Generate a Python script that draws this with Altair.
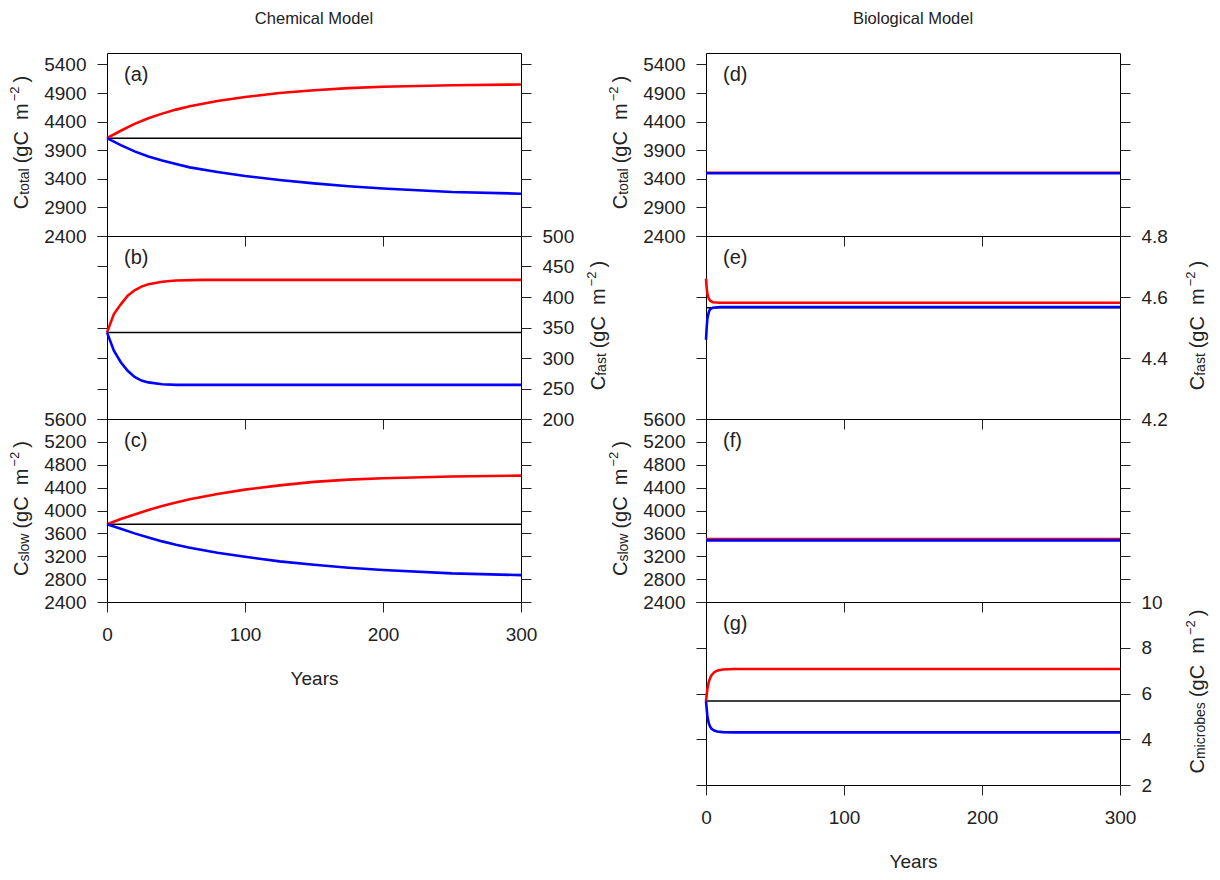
import altair as alt
import pandas as pd

FONT = "Liberation Sans"
W = 414
H = 183
XTICKS = [0, 100, 200, 300]

# ---------------- Chemical model ----------------
# (a) C_total
A_YEARS = [0, 10, 20, 30, 40, 50, 60, 80, 100, 125, 150, 175, 200, 250, 300]
A_BASE = [4110, 4110]
A_RED = [4110, 4240, 4360, 4460, 4540, 4610, 4670, 4760, 4830, 4900, 4950, 4985, 5010, 5035, 5050]
A_BLUE = [4110, 3990, 3880, 3790, 3720, 3660, 3600, 3520, 3450, 3380, 3320, 3270, 3230, 3170, 3140]
# (b) C_fast
B_YEARS = [0, 5, 10, 15, 20, 25, 30, 40, 50, 70, 100, 300]
B_BASE = [342, 342]
B_RED = [342, 372, 388, 402, 411, 417, 421, 425, 427, 428, 428, 428]
B_BLUE = [342, 312, 293, 279, 269, 263, 260, 257, 256, 256, 256, 256]
# (c) C_slow
C_YEARS = [0, 10, 20, 30, 40, 50, 60, 80, 100, 125, 150, 175, 200, 250, 300]
C_BASE = [3760, 3760]
C_RED = [3760, 3850, 3930, 4010, 4080, 4140, 4195, 4290, 4365, 4440, 4500, 4540, 4565, 4595, 4610]
C_BLUE = [3760, 3680, 3600, 3530, 3460, 3400, 3350, 3260, 3190, 3110, 3050, 3000, 2960, 2900, 2870]

# ---------------- Biological model ----------------
# (d) C_total
D_YEARS = [0, 300]
D_BASE = [3500, 3500]
D_RED = [3505, 3505]
D_BLUE = [3498, 3498]
# (e) C_fast
E_YEARS = [0, 0.5, 1, 2, 3, 5, 10, 300]
E_BASE = [4.565, 4.565]
E_RED = [4.66, 4.63, 4.61, 4.595, 4.588, 4.583, 4.581, 4.581]
E_BLUE = [4.46, 4.50, 4.53, 4.55, 4.560, 4.565, 4.567, 4.567]
# (f) C_slow
F_YEARS = [0, 300]
F_BASE = [3490, 3490]
F_RED = [3500, 3500]
F_BLUE = [3478, 3478]
# (g) C_microbes
G_YEARS = [0, 1, 2, 3, 4, 6, 8, 12, 20, 300]
G_BASE = [5.67, 5.67]
G_RED = [5.67, 6.2, 6.5, 6.68, 6.8, 6.93, 7.0, 7.05, 7.07, 7.07]
G_BLUE = [5.67, 5.0, 4.7, 4.55, 4.46, 4.38, 4.34, 4.31, 4.30, 4.30]

TICKS_TOTAL = [2400, 2900, 3400, 3900, 4400, 4900, 5400]
TICKS_SLOW = [2400, 2800, 3200, 3600, 4000, 4400, 4800, 5200, 5600]
TICKS_FAST_CHEM = [200, 250, 300, 350, 400, 450, 500]
TICKS_FAST_BIO = [4.2, 4.4, 4.6, 4.8]
TICKS_MICROBES = [2, 4, 6, 8, 10]

SUB_WIDTH = {"total": 26.5, "fast": 22.5, "slow": 28.0, "microbes": 57.0}


def sdf(years, values):
    if len(values) == 2 and len(years) != 2:
        years = [0, 300]
    return pd.DataFrame({"year": years, "value": values})


def text_layer(text, x, y, size, align="left", baseline="middle", angle=0, color="#222"):
    df = pd.DataFrame({"t": [text]})
    return alt.Chart(df).mark_text(
        align=align, baseline=baseline, angle=angle, fontSize=size, font=FONT, color=color
    ).encode(text="t:N", x=alt.value(x), y=alt.value(y))


def title_layers(sub, side):
    wc, ws, wp, wsup, wcl = 14.4, SUB_WIDTH[sub], 60.0, 14.8, 6.7
    g1, g2, g3 = 5, 2, 4
    L = wc + ws + g1 + wp + g2 + wsup + g3 + wcl
    cy = H / 2 - 2
    y0 = cy + L / 2
    bx = -79 if side == "left" else W + 84
    out = []
    out.append(text_layer("C", bx, y0, 20, align="left", baseline="alphabetic", angle=270))
    y1 = y0 - wc
    out.append(text_layer(sub, bx + 1, y1, 14, align="left", baseline="alphabetic", angle=270))
    y2 = y1 - ws - g1
    out.append(text_layer("(gC\u00a0\u00a0m", bx, y2, 20, align="left", baseline="alphabetic", angle=270))
    y3 = y2 - wp - g2
    out.append(text_layer("\u22122", bx - 9, y3, 13, align="left", baseline="alphabetic", angle=270))
    y4 = y3 - wsup - g3
    out.append(text_layer(")", bx, y4, 20, align="left", baseline="alphabetic", angle=270))
    return out


def panel(years, base, red, blue, ydomain, yticks, side, letter, sub, fmt, bottom, coltitle=None):
    xs = alt.Scale(domain=[0, 300], nice=False, zero=False)
    ys = alt.Scale(domain=ydomain, nice=False, zero=False)
    other = "right" if side == "left" else "left"
    main_axis = alt.Axis(orient=side, values=yticks, format=fmt, title=None,
                         labelPadding=11, tickSize=10, labelFlush=False, labelOverlap=False)
    other_axis = alt.Axis(orient=other, values=yticks, labels=False, title=None, tickSize=10)
    if bottom:
        xaxis = alt.Axis(values=XTICKS, title="Years", labelPadding=13, titlePadding=25,
                         tickSize=10, labelFlush=False, labelOverlap=False, format="d")
    else:
        xaxis = alt.Axis(values=XTICKS, labels=False, title=None, tickSize=10)

    def line(df, color, sw, xaxis_, yaxis_):
        return alt.Chart(df).mark_line(color=color, strokeWidth=sw).encode(
            x=alt.X("year:Q", scale=xs, axis=xaxis_),
            y=alt.Y("value:Q", scale=ys, axis=yaxis_),
        )

    layers = [
        line(sdf(years, base), "#000000", 1.5, xaxis, main_axis),
        line(sdf(years, red), "#ff0000", 2.6, None, other_axis),
        line(sdf(years, blue), "#0000ff", 2.6, None, None),
        text_layer(letter, 17, 22, 20),
    ]
    layers += title_layers(sub, side)
    if coltitle:
        layers.append(text_layer(coltitle, W / 2, -34, 16.5, align="center"))
    return (
        alt.layer(*layers)
        .resolve_scale(x="independent", y="independent")
        .resolve_axis(x="independent", y="independent")
        .properties(width=W, height=H)
    )


pa = panel(A_YEARS, A_BASE, A_RED, A_BLUE, [2400, 5600], TICKS_TOTAL, "left", "(a)", "total", "d", False, "Chemical Model")
pb = panel(B_YEARS, B_BASE, B_RED, B_BLUE, [200, 500], TICKS_FAST_CHEM, "right", "(b)", "fast", "d", False)
pc = panel(C_YEARS, C_BASE, C_RED, C_BLUE, [2400, 5600], TICKS_SLOW, "left", "(c)", "slow", "d", True)

pd_ = panel(D_YEARS, D_BASE, D_RED, D_BLUE, [2400, 5600], TICKS_TOTAL, "left", "(d)", "total", "d", False, "Biological Model")
pe = panel(E_YEARS, E_BASE, E_RED, E_BLUE, [4.2, 4.8], TICKS_FAST_BIO, "right", "(e)", "fast", ".1f", False)
pf = panel(F_YEARS, F_BASE, F_RED, F_BLUE, [2400, 5600], TICKS_SLOW, "left", "(f)", "slow", "d", False)
pg = panel(G_YEARS, G_BASE, G_RED, G_BLUE, [2, 10], TICKS_MICROBES, "right", "(g)", "microbes", "d", True)

empty = text_layer("", 0, 0, 10).properties(
    width=W, height=H, view=alt.ViewBackground(stroke="transparent")
)

chart = (
    alt.concat(pa, pd_, pb, pe, pc, pf, empty, pg, columns=2,
               spacing={"row": 0, "column": 185}, bounds="flush")
    .configure_view(stroke="#000000", strokeWidth=1)
    .configure_axis(
        labelFont=FONT, labelFontSize=19, labelColor="#222222",
        titleFont=FONT, titleFontSize=19, titleFontWeight="normal", titleColor="#222222",
        tickColor="#222222", tickWidth=1, domain=False, grid=False,
    )
    .properties(padding={"left": 0, "top": 2, "right": 0, "bottom": 0}, background="white")
)

chart.save("out.html", embed_options={"renderer": "svg", "actions": False})
